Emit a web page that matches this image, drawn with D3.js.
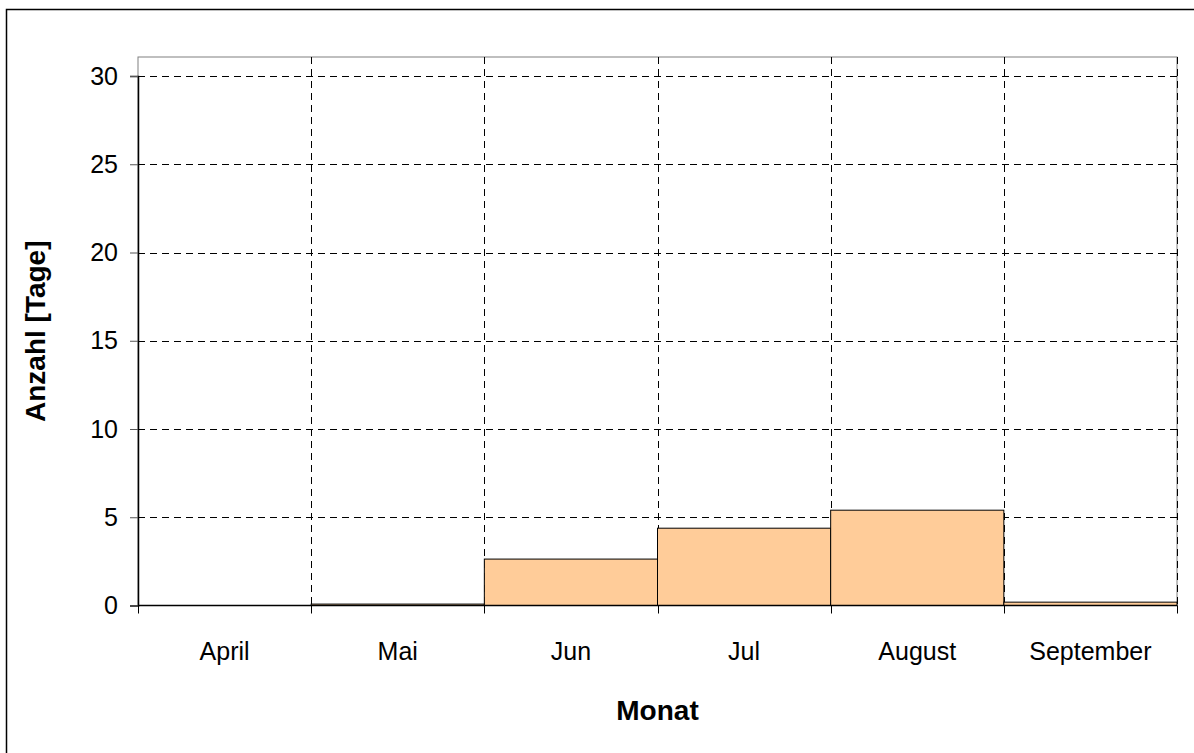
<!DOCTYPE html>
<html>
<head>
<meta charset="utf-8">
<script src="https://cdn.jsdelivr.net/npm/d3@7"></script>
<style>
  html, body { margin: 0; padding: 0; background: #fff; }
  svg { display: block; font-family: "Liberation Sans", Arial, sans-serif; }
</style>
</head>
<body>
<svg id="chart" width="1194" height="753"></svg>
<script>
// data
const months = ['April', 'Mai', 'Jun', 'Jul', 'August', 'September'];
const days = [0, 0.08, 2.63, 4.38, 5.4, 0.19];
const yTicks = [0, 5, 10, 15, 20, 25, 30];

const svg = d3.select('#chart');
const plot = { left: 138, right: 1177, top: 57, bottom: 605.5 };

const x = d3.scaleBand().domain(months).range([plot.left, plot.right]).padding(0);
const y = d3.scaleLinear().domain([0, 30]).range([plot.bottom, 76]);

// outer frame
svg.append('rect')
  .attr('x', 6.5).attr('y', 9.5)
  .attr('width', 1300).attr('height', 900)
  .attr('fill', 'none').attr('stroke', '#000').attr('stroke-width', 1.5);

// plot area frame (grey)
svg.append('rect')
  .attr('x', plot.left).attr('y', plot.top)
  .attr('width', plot.right - plot.left).attr('height', plot.bottom - plot.top)
  .attr('fill', '#fff').attr('stroke', '#808080').attr('stroke-width', 1);

// horizontal gridlines
svg.append('g').selectAll('line')
  .data(yTicks.filter(d => d > 0))
  .join('line')
  .attr('x1', plot.left).attr('x2', plot.right)
  .attr('y1', d => Math.round(y(d)) + 0.5).attr('y2', d => Math.round(y(d)) + 0.5)
  .attr('stroke', '#000').attr('stroke-dasharray', '7,5');

// vertical gridlines at category boundaries
const bounds = months.slice(1).map(m => x(m)).concat([plot.right]);
svg.append('g').selectAll('line')
  .data(bounds)
  .join('line')
  .attr('x1', d => Math.round(d) + 0.5).attr('x2', d => Math.round(d) + 0.5)
  .attr('y1', plot.top).attr('y2', plot.bottom)
  .attr('stroke', '#000').attr('stroke-dasharray', '7,5');

// bars
svg.append('g').selectAll('rect')
  .data(months)
  .join('rect')
  .attr('x', d => x(d))
  .attr('width', x.bandwidth())
  .attr('y', (d, i) => y(days[i]))
  .attr('height', (d, i) => y(0) - y(days[i]))
  .attr('fill', '#FFCC99')
  .attr('stroke', '#000').attr('stroke-width', 1);

// y axis
const yAxis = d3.axisLeft(y).tickValues(yTicks).tickSize(8).tickPadding(12);
const gy = svg.append('g')
  .attr('transform', `translate(${plot.left},0)`)
  .call(yAxis);
gy.select('.domain').attr('stroke', '#000').attr('stroke-width', 1.5);
gy.selectAll('.tick line').attr('stroke', '#555');
gy.selectAll('.tick text')
  .attr('font-size', 25).attr('fill', '#000')
  .attr('font-family', '"Liberation Sans", Arial, sans-serif');

// x axis: line, boundary ticks, centered labels
svg.append('line')
  .attr('x1', plot.left).attr('x2', plot.right)
  .attr('y1', plot.bottom).attr('y2', plot.bottom)
  .attr('stroke', '#000').attr('stroke-width', 1.5);
svg.append('g').selectAll('line')
  .data([plot.left].concat(bounds))
  .join('line')
  .attr('x1', d => Math.round(d) + 0.5).attr('x2', d => Math.round(d) + 0.5)
  .attr('y1', plot.bottom).attr('y2', plot.bottom + 8)
  .attr('stroke', '#000');
svg.append('g').selectAll('text')
  .data(months)
  .join('text')
  .attr('x', d => x(d) + x.bandwidth() / 2)
  .attr('y', 660)
  .attr('text-anchor', 'middle')
  .attr('font-size', 25)
  .text(d => d);

// axis titles
svg.append('text')
  .attr('x', (plot.left + plot.right) / 2)
  .attr('y', 720)
  .attr('text-anchor', 'middle')
  .attr('font-size', 28).attr('font-weight', 'bold')
  .text('Monat');
svg.append('text')
  .attr('transform', `translate(45,${(plot.top + plot.bottom) / 2}) rotate(-90)`)
  .attr('text-anchor', 'middle')
  .attr('font-size', 28).attr('font-weight', 'bold')
  .text('Anzahl [Tage]');
</script>
</body>
</html>
